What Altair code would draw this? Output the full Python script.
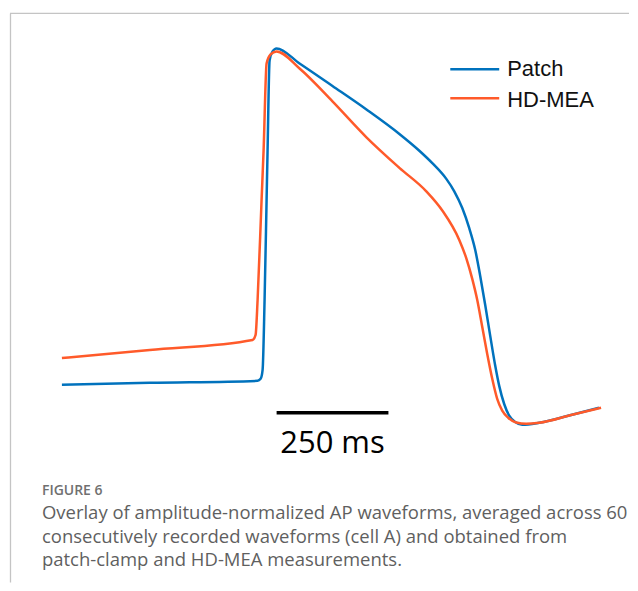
import altair as alt
import pandas as pd

# ---- data (time in ms, amplitude normalized to Patch AP) ----
patch_t = [0, 196.4, 437.5, 444.2, 448.7, 453.1, 457.6, 459.8, 464.3, 471.0, 479.9,
           531.3, 604.9, 680.8, 754.5, 799.1, 828.1, 859.4, 877.2, 895.1, 910.7,
           924.1, 935.3, 946.4, 957.6, 968.8, 977.7, 988.8, 1000.0, 1013.4, 1029.0,
           1067.0, 1140.6, 1200.9]
patch_v = [-0.003, 0.003, 0.009, 0.015, 0.042, 0.250, 0.548, 0.696, 0.964, 0.991, 1.000,
           0.955, 0.888, 0.818, 0.745, 0.695, 0.658, 0.611, 0.574, 0.524, 0.464,
           0.399, 0.321, 0.235, 0.143, 0.054, -0.006, -0.060, -0.095, -0.114, -0.122,
           -0.116, -0.092, -0.071]

mea_t = [0, 196.4, 426.3, 433.0, 437.5, 446.4, 450.9, 457.6, 466.5, 479.9,
         531.3, 604.9, 680.8, 754.5, 814.7, 850.4, 888.4, 904.0, 917.4, 928.6,
         939.7, 950.9, 962.1, 973.2, 984.4, 997.8, 1015.6, 1037.9, 1067.0, 1140.6, 1205.4]
mea_v = [0.077, 0.101, 0.131, 0.146, 0.250, 0.548, 0.696, 0.955, 0.982, 0.991,
         0.940, 0.842, 0.735, 0.644, 0.574, 0.517, 0.429, 0.375, 0.313, 0.250,
         0.170, 0.089, 0.015, -0.045, -0.080, -0.101, -0.115, -0.119, -0.116, -0.092, -0.071]

series_names = ["Patch", "HD-MEA"]
series_colors = ["#0072BD", "#FF5A2A"]

scalebar_start = [480]
scalebar_end = [730]
scalebar_level = [-0.086]
scalebar_label = ["250 ms"]

caption_title = "FIGURE 6"
caption_lines = [
    "Overlay of amplitude-normalized AP waveforms, averaged across 60",
    "consecutively recorded waveforms (cell A) and obtained from",
    "patch-clamp and HD-MEA measurements.",
]

W, H = 622, 575
xscale = alt.Scale(domain=[-120.54, 1267.86], nice=False, zero=False)
yscale = alt.Scale(domain=[-0.59226, 1.11905], nice=False, zero=False)

df_patch = pd.DataFrame({"t": patch_t, "v": patch_v})
df_mea = pd.DataFrame({"t": mea_t, "v": mea_v})

def trace(df, color):
    return alt.Chart(df).mark_line(strokeWidth=2.5, interpolate="monotone", color=color).encode(
        x=alt.X("t:Q", scale=xscale, axis=None),
        y=alt.Y("v:Q", scale=yscale, axis=None),
    )

patch_line = trace(df_patch, series_colors[0])
mea_line = trace(df_mea, series_colors[1])

df_bar = pd.DataFrame({"t0": scalebar_start, "t1": scalebar_end, "v": scalebar_level,
                       "label": scalebar_label})
df_bar["tm"] = (df_bar["t0"] + df_bar["t1"]) / 2
df_bar["vl"] = df_bar["v"] - 0.119

bar = alt.Chart(df_bar).mark_rule(strokeWidth=3.5, color="black").encode(
    x=alt.X("t0:Q", scale=xscale, axis=None), x2="t1:Q",
    y=alt.Y("v:Q", scale=yscale, axis=None),
)
bar_text = alt.Chart(df_bar).mark_text(font="Open Sans", fontSize=31, color="black",
                                       baseline="alphabetic", align="center").encode(
    x=alt.X("tm:Q", scale=xscale, axis=None),
    y=alt.Y("vl:Q", scale=yscale, axis=None),
    text="label:N",
)

# legend (drawn manually)
df_leg = pd.DataFrame({"name": series_names, "color": series_colors,
                       "ly": [61, 90], "ty": [68, 99]})
leg_lines = alt.Chart(df_leg).mark_rule(strokeWidth=2.5).encode(
    x=alt.value(443), x2=alt.value(492),
    y=alt.Y("ly:Q", scale=None),
    color=alt.Color("color:N", scale=None),
)
leg_text = alt.Chart(df_leg).mark_text(font="Liberation Sans", fontSize=22, color="#111111",
                                       align="left", baseline="alphabetic").encode(
    x=alt.value(500), y=alt.Y("ty:Q", scale=None), text="name:N",
)

# frame
frame_top = alt.Chart(pd.DataFrame({"a": [0]})).mark_rule(color="#c4c4c4", strokeWidth=1.3).encode(
    x=alt.value(2), x2=alt.value(W), y=alt.value(5))
frame_left = alt.Chart(pd.DataFrame({"a": [0]})).mark_rule(color="#c4c4c4", strokeWidth=1.3).encode(
    x=alt.value(2.5), y=alt.value(5), y2=alt.value(H))

# caption
df_cap_t = pd.DataFrame({"txt": [caption_title]})
cap_title = alt.Chart(df_cap_t).mark_text(font="Open Sans", fontSize=14, fontWeight=600,
                                          color="#707070", align="left", baseline="alphabetic").encode(
    x=alt.value(34), y=alt.value(487), text="txt:N")
df_cap = pd.DataFrame({"txt": caption_lines, "yy": [511, 535, 558]})
cap_body = alt.Chart(df_cap).mark_text(font="Open Sans", fontSize=18.5, color="#5f5f5f",
                                       align="left", baseline="alphabetic").encode(
    x=alt.value(34), y=alt.Y("yy:Q", scale=None), text="txt:N")

chart = alt.layer(
    frame_top, frame_left, patch_line, mea_line, bar, bar_text,
    leg_lines, leg_text, cap_title, cap_body,
).properties(width=W, height=H, padding=0).configure_view(stroke=None)

chart.save("out.html", embed_options={"renderer": "svg", "actions": False})
